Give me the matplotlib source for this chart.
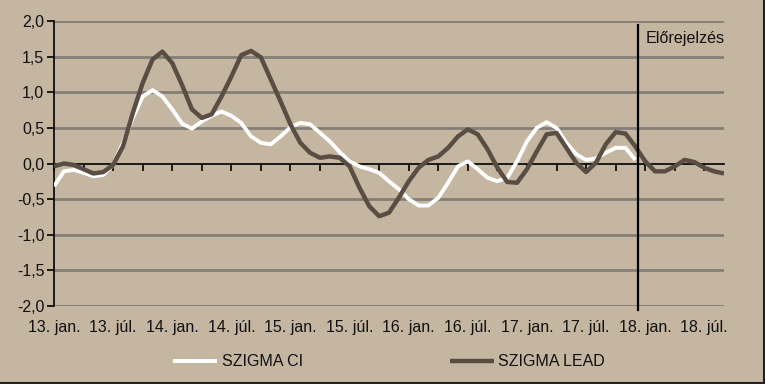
import matplotlib
matplotlib.use("Agg")
import matplotlib.pyplot as plt
from matplotlib.lines import Line2D
import numpy as np

plt.rcParams['font.family'] = ['Liberation Sans', 'DejaVu Sans']

# Monthly data from 2013 Jan; CI ends Dec 2017, LEAD forecast to Sep 2018
szigma_ci = [-0.32, -0.11, -0.09, -0.13, -0.18, -0.16, -0.02, 0.29, 0.64, 0.94,
             1.03, 0.94, 0.76, 0.56, 0.49, 0.59, 0.67, 0.73, 0.67, 0.57,
             0.38, 0.29, 0.27, 0.38, 0.51, 0.57, 0.55, 0.43, 0.31, 0.16,
             0.03, -0.04, -0.08, -0.13, -0.25, -0.36, -0.50, -0.59, -0.59, -0.48,
             -0.27, -0.04, 0.03, -0.08, -0.20, -0.25, -0.20, 0.03, 0.31, 0.50,
             0.58, 0.50, 0.29, 0.13, 0.05, 0.07, 0.15, 0.22, 0.22, 0.05]
szigma_lead = [-0.04, 0.0, -0.02, -0.08, -0.14, -0.12, -0.02, 0.24, 0.71, 1.13,
               1.46, 1.57, 1.41, 1.10, 0.76, 0.64, 0.69, 0.94, 1.22, 1.52,
               1.58, 1.49, 1.18, 0.87, 0.55, 0.29, 0.15, 0.08, 0.10, 0.08,
               -0.04, -0.34, -0.60, -0.74, -0.69, -0.48, -0.25, -0.06, 0.05, 0.10,
               0.22, 0.38, 0.48, 0.41, 0.20, -0.06, -0.26, -0.27, -0.08, 0.17,
               0.41, 0.43, 0.22, 0.01, -0.12, 0.01, 0.27, 0.44, 0.42, 0.24,
               0.03, -0.11, -0.11, -0.04, 0.05, 0.02, -0.06, -0.11, -0.14]
tick_labels = ["13. jan.", "13. júl.", "14. jan.", "14. júl.", "15. jan.", "15. júl.",
               "16. jan.", "16. júl.", "17. jan.", "17. júl.", "18. jan.", "18. júl."]
series_names = ["SZIGMA CI", "SZIGMA LEAD"]
forecast_label = "Előrejelzés"
forecast_pos = 59.3

BG = '#C4B6A0'
GRID = '#857E76'
DARK = '#5A4E44'

W, H = 765, 384
fig = plt.figure(figsize=(W / 100, H / 100), dpi=100, facecolor=BG)
ax = fig.add_axes([54 / W, 1 - 306 / H, (724 - 54) / W, (306 - 21) / H])
ax.set_facecolor(BG)

x_ci = np.arange(len(szigma_ci))
x_lead = np.arange(len(szigma_lead))
n = len(szigma_lead)

ax.set_xlim(0, n - 1)
ax.set_ylim(-2.0, 2.0)

# gridlines
yt = np.arange(-2.0, 2.01, 0.5)
for v in yt:
    if abs(v) > 1e-9:
        ax.axhline(v, color=GRID, lw=2.0, zorder=1)

ax.plot(x_ci, szigma_ci, color='white', lw=2.8, zorder=3,
        solid_joinstyle='round', solid_capstyle='butt', label=series_names[0])
ax.plot(x_lead, szigma_lead, color=DARK, lw=3.2, zorder=4,
        solid_joinstyle='round', solid_capstyle='butt', label=series_names[1])

# spines
for s in ['top', 'right']:
    ax.spines[s].set_visible(False)
ax.spines['left'].set_color('black')
ax.spines['left'].set_linewidth(1.2)
ax.spines['bottom'].set_position(('data', 0))
ax.spines['bottom'].set_color('black')
ax.spines['bottom'].set_linewidth(1.2)
ax.spines['bottom'].set_zorder(2)

FS = 11.5
ax.set_yticks(yt)
ax.set_yticklabels([f"{v:.1f}".replace('.', ',') for v in yt], fontsize=FS, color='#111111')
ax.tick_params(axis='y', direction='out', length=5, width=1.2, pad=2)

ax.set_xticks(np.arange(0, n, 3))
ax.tick_params(axis='x', direction='out', length=5, width=1.2, labelbottom=False)

trans = ax.get_xaxis_transform()
for k, lab in enumerate(tick_labels):
    ax.text(k * 6, -0.075, lab, transform=trans, ha='center', va='center',
            fontsize=FS, color='#111111', clip_on=False)

# forecast marker
ax.plot([forecast_pos, forecast_pos], [1.94, -2.06], color='black', lw=1.6,
        zorder=5, clip_on=False)
ax.text(forecast_pos + 0.75, 1.65, forecast_label, fontsize=11.6, color='#111111',
        ha='left', va='bottom')

leg = fig.legend(loc='center', bbox_to_anchor=(389 / W, 1 - 362 / H), ncol=2,
                 frameon=False, fontsize=FS, handlelength=2.75, handletextpad=0.3,
                 columnspacing=9.2)
for t in leg.get_texts():
    t.set_color('#111111')

# frame edges at bottom and right
fig.add_artist(Line2D([0, 1], [1 / H, 1 / H], transform=fig.transFigure, color='#222222', lw=1.5))
fig.add_artist(Line2D([1 - 1 / W, 1 - 1 / W], [0, 1], transform=fig.transFigure, color='#222222', lw=1.5))

fig.savefig('out.png', dpi=100, facecolor=BG)
